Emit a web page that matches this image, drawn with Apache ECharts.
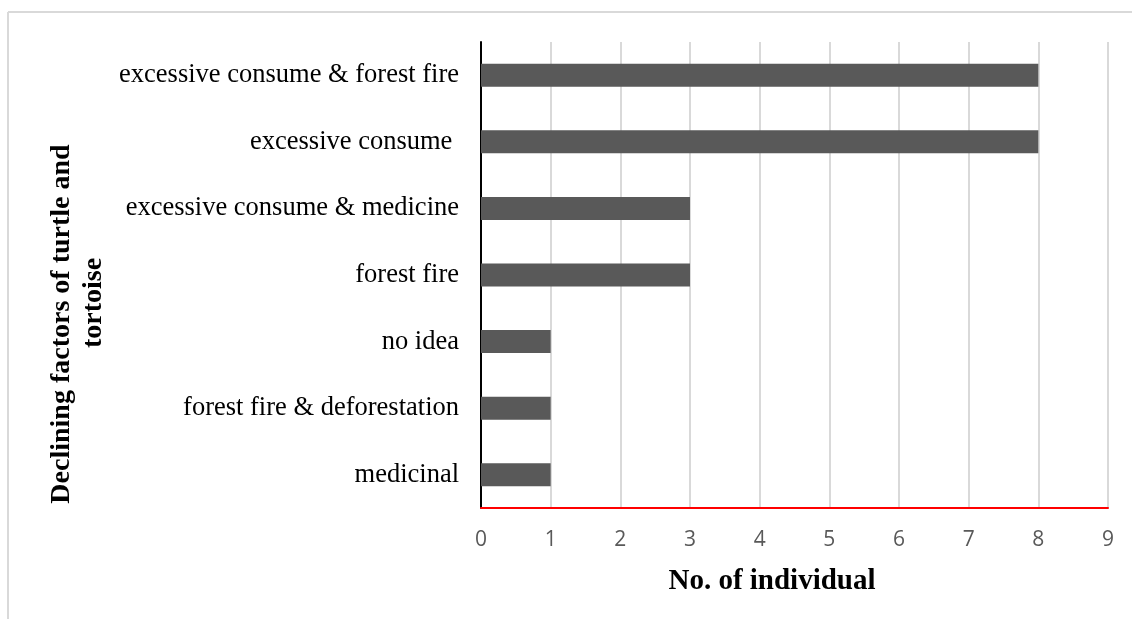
<!DOCTYPE html>
<html>
<head>
<meta charset="utf-8">
<script src="https://cdn.jsdelivr.net/npm/echarts@6/dist/echarts.min.js"></script>
<style>
  html, body { margin: 0; padding: 0; background: #fff; }
  #chart { width: 1132px; height: 619px; }
</style>
</head>
<body>
<div id="chart"></div>
<script>
// declining factors, top to bottom
const categories = [
  "excessive consume & forest fire",
  "excessive consume ",
  "excessive consume & medicine",
  "forest fire",
  "no idea",
  "forest fire & deforestation",
  "medicinal"
];
const counts = [8, 8, 3, 3, 1, 1, 1];
const xTicks = [0, 1, 2, 3, 4, 5, 6, 7, 8, 9];

const serif = "'Liberation Serif', 'Times New Roman', serif";

const chart = echarts.init(document.getElementById("chart"));

const option = {
  animation: false,
  backgroundColor: "#fff",
  grid: {
    left: 481,
    right: 24,
    top: 42,
    bottom: 111,
    containLabel: false
  },
  xAxis: {
    type: "value",
    min: xTicks[0],
    max: xTicks[xTicks.length - 1],
    interval: 1,
    axisLine: { show: true, lineStyle: { color: "#ff0000", width: 2 } },
    axisTick: { show: false },
    splitLine: { show: true, lineStyle: { color: "#d9d9d9", width: 2 } },
    axisLabel: {
      color: "#595959",
      fontFamily: "'Open Sans', sans-serif",
      fontSize: 21,
      margin: 22
    }
  },
  yAxis: {
    type: "category",
    inverse: true,
    data: categories,
    axisLine: { show: true, lineStyle: { color: "#000", width: 2 } },
    axisTick: { show: false },
    axisLabel: {
      color: "#000",
      fontFamily: serif,
      fontSize: 26.5,
      margin: 22
    }
  },
  series: [
    {
      type: "bar",
      data: counts,
      barWidth: 23,
      itemStyle: { color: "#595959" }
    }
  ],
  graphic: [
    {
      type: "line",
      shape: { x1: 8, y1: 12, x2: 1132, y2: 12 },
      style: { stroke: "#d9d9d9", lineWidth: 2 }
    },
    {
      type: "line",
      shape: { x1: 8, y1: 12, x2: 8, y2: 619 },
      style: { stroke: "#d9d9d9", lineWidth: 2 }
    },
    {
      type: "text",
      x: 772,
      y: 582,
      style: {
        text: "No. of individual",
        font: "bold 29px " + serif,
        fill: "#000",
        align: "center",
        verticalAlign: "middle"
      }
    },
    {
      type: "text",
      x: 62,
      y: 324,
      rotation: Math.PI / 2,
      style: {
        text: "Declining factors of turtle and",
        font: "bold 28px " + serif,
        fill: "#000",
        align: "center",
        verticalAlign: "middle"
      }
    },
    {
      type: "text",
      x: 94,
      y: 303,
      rotation: Math.PI / 2,
      style: {
        text: "tortoise",
        font: "bold 28px " + serif,
        fill: "#000",
        align: "center",
        verticalAlign: "middle"
      }
    }
  ]
};

chart.setOption(option);
window.addEventListener("resize", chart.resize);
</script>
</body>
</html>
